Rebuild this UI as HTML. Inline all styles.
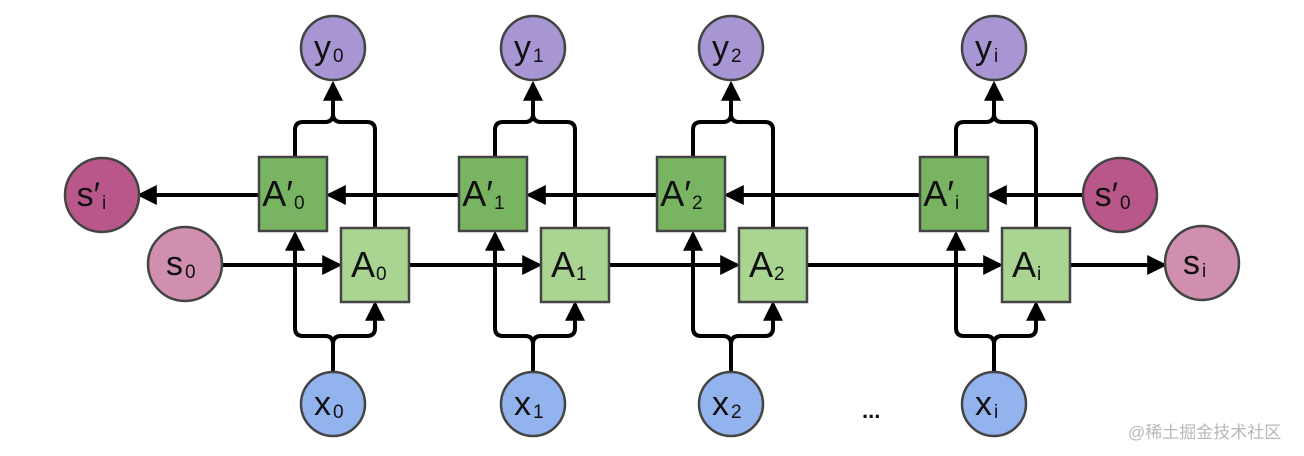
<!DOCTYPE html>
<html><head><meta charset="utf-8"><style>
html,body{margin:0;padding:0;background:#fff;}
svg{display:block;}
text{font-family:"Liberation Sans",sans-serif;fill:#111;}
</style></head><body>
<svg id="s" width="1304" height="456" viewBox="0 0 1304 456" xmlns="http://www.w3.org/2000/svg">
<defs>
<marker id="ar" markerWidth="5" markerHeight="5" refX="4.2" refY="2.5" orient="auto" markerUnits="strokeWidth">
<path d="M0,0 L5,2.5 L0,5 Z" fill="#000"/></marker>
</defs>
<g id="g" stroke="#000" stroke-width="4" fill="none"></g>
<g id="n"></g>
<text x="862" y="418" style="font-size:22px;font-weight:bold">...</text>
<text x="1128" y="438" style="font-family:'Liberation Sans','Noto Sans CJK SC',sans-serif;font-size:17px;fill:#b8b8b8">@稀土掘金技术社区</text>
</svg>
<script>
var g=document.getElementById('g'),n=document.getElementById('n'),h='',t='';
var offs=[0,200,398,661],subs=['0','1','2','i'];
function circ(cx,cy,r,f,main,sub,prime){
 t+='<circle cx="'+cx+'" cy="'+cy+'" r="'+r+'" fill="'+f+'" stroke="#444" stroke-width="2.5"/>';
 t+='<text x="'+(cx-2)+'" y="'+(cy+11)+'" text-anchor="end" style="font-size:34px">'+main+(prime?'\u2032':'')+'</text>';
 t+='<text x="'+(cx)+'" y="'+(cy+14)+'" style="font-size:19px">'+sub+'</text>';
}
function box(x,y,f,sub,prime){
 t+='<rect x="'+x+'" y="'+y+'" width="68" height="74" fill="'+f+'" stroke="#444" stroke-width="2.5"/>';
 t+='<text x="'+(x+34)+'" y="'+(y+49)+'" text-anchor="end" style="font-size:36px">A'+(prime?'\u2032':'')+'</text>';
 t+='<text x="'+(x+35)+'" y="'+(y+52)+'" style="font-size:19px">'+sub+'</text>';
}
for(var k=0;k<4;k++){
 var o=offs[k],L=259+o,a=L+36,b=L+116,c=(a+b)/2-2,s=subs[k];
 // bottom split
 h+='<path d="M'+c+',372 V344 Q'+c+',336 '+(c-8)+',336 H'+(a+8)+' Q'+a+',336 '+a+',328 V234" marker-end="url(#ar)"/>';
 h+='<path d="M'+c+',344 Q'+c+',336 '+(c+8)+',336 H'+(b-8)+' Q'+b+',336 '+b+',328 V304" marker-end="url(#ar)"/>';
 // top merge
 h+='<path d="M'+a+',157 V130 Q'+a+',122 '+(a+8)+',122 H'+(c-8)+' Q'+c+',122 '+c+',114 V84" marker-end="url(#ar)"/>';
 h+='<path d="M'+b+',228 V130 Q'+b+',122 '+(b-8)+',122 H'+(c+8)+' Q'+c+',122 '+c+',114"/>';
 circ(c,48,32,'#a796d3','y',s);
 circ(c,404,32,'#93b3ef','x',s);
 box(L,157,'#78b461',s,true);
 box(L+82,228,'#a9d492',s,false);
}
// A row
var xs=[221].concat(offs.map(function(o){return 259+o+82;}));
h+='<path d="M221,265 H339" marker-end="url(#ar)"/>';
for(k=0;k<3;k++)h+='<path d="M'+(409+offs[k])+',265 H'+(339+offs[k+1])+'" marker-end="url(#ar)"/>';
h+='<path d="M'+(409+661)+',265 H1164" marker-end="url(#ar)"/>';
// A' row
h+='<path d="M1084,195 H990" marker-end="url(#ar)"/>';
for(k=3;k>0;k--)h+='<path d="M'+(259+offs[k])+',195 H'+(329+offs[k-1])+'" marker-end="url(#ar)"/>';
h+='<path d="M259,195 H140" marker-end="url(#ar)"/>';
circ(102,195,37,'#b9578a','s',subs[3],true);
circ(185,264,37,'#d08fae','s','0');
circ(1120,195,37,'#b9578a','s','0',true);
circ(1202,263,37,'#d08fae','s','i');
g.innerHTML=h;n.innerHTML=t;
</script>
</body></html>
